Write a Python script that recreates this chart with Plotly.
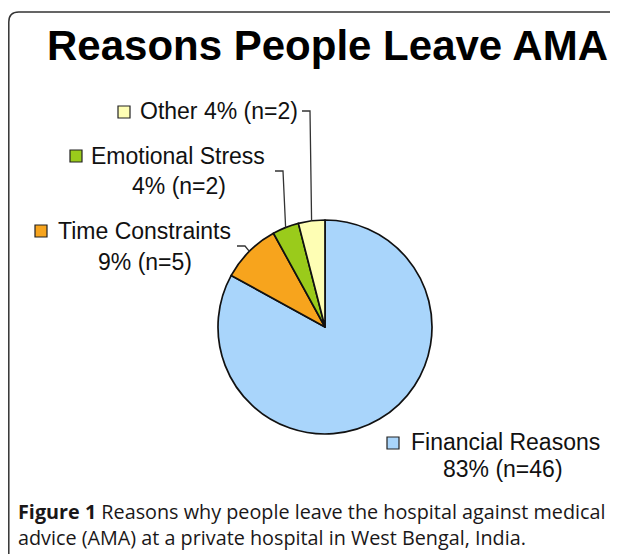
import math
import plotly.graph_objects as go

# ---- data ----
categories = ["Financial Reasons", "Time Constraints", "Emotional Stress", "Other"]
percents = [83, 9, 4, 4]
counts = [46, 5, 2, 2]
colors = ["#A9D5FB", "#F7A41D", "#9ACB1B", "#FEFEB4"]

OFF = 8  # page body margin compensation
W, H = 618 - 2 * OFF, 554 - OFF


def px(x):
    return (x - OFF) / W


def py(y):
    return 1 - (y - OFF) / H


# pie geometry (pixels in the screenshot)
CX, CY, R = 325, 327, 107

fig = go.Figure()
fig.add_trace(go.Pie(
    labels=categories,
    values=percents,
    sort=False,
    direction="clockwise",
    rotation=0,
    textinfo="none",
    hoverinfo="label+percent",
    marker=dict(colors=colors, line=dict(color="#111111", width=1.7)),
    domain=dict(x=[px(CX - R), px(CX + R)], y=[py(CY + R), py(CY - R)]),
    showlegend=False,
))

shapes = []
annotations = []

# frame with rounded top-left corner
rc = 10
fx, fy = 8.8, 12
path = (f"M {px(fx)},{py(600)} L {px(fx)},{py(fy + rc)} "
        f"Q {px(fx)},{py(fy)} {px(fx + rc)},{py(fy)} L {px(700)},{py(fy)}")
shapes.append(dict(type="path", xref="paper", yref="paper", path=path,
                   line=dict(color="#333333", width=1.5)))

# title
annotations.append(dict(text="<b>Reasons People Leave AMA</b>", x=px(327), y=py(46),
                        xref="paper", yref="paper", showarrow=False,
                        xanchor="center", yanchor="middle",
                        font=dict(family="Liberation Sans, Arial", size=42, color="#000000")))

# label layout (pixel positions)
layout_pos = {
    "Financial Reasons": dict(sq=(387, 443), line1=(409, 442), line2=(503, 469), lead=None),
    "Time Constraints": dict(sq=(35, 231), line1=(56, 231), line2=(145, 262), lead=(237, 246)),
    "Emotional Stress": dict(sq=(70, 156), line1=(89, 156), line2=(179, 186), lead=(275, 171)),
    "Other": dict(sq=(118, 112), line1=(138, 111), line2=None, lead=(302, 111)),
}

total = sum(percents)
cum = 0
lab_font = dict(family="Liberation Sans, Arial", size=23, color="#111111")
S = 12
for cat, p, n, col in zip(categories, percents, counts, colors):
    mid = (cum + p / 2) / total * 2 * math.pi
    cum += p
    pos = layout_pos[cat]
    sx, sy = pos["sq"]
    shapes.append(dict(type="rect", xref="paper", yref="paper",
                       x0=px(sx), x1=px(sx + S), y0=py(sy + S / 2), y1=py(sy - S / 2),
                       fillcolor=col, line=dict(color="#222222", width=1.2)))
    pct = f"{p}% (n={n})"
    if pos["line2"] is None:
        annotations.append(dict(text=f"{cat} {pct}", x=px(pos["line1"][0]), y=py(pos["line1"][1]),
                                xref="paper", yref="paper", showarrow=False,
                                xanchor="left", yanchor="middle", font=lab_font))
    else:
        annotations.append(dict(text=cat, x=px(pos["line1"][0]), y=py(pos["line1"][1]),
                                xref="paper", yref="paper", showarrow=False,
                                xanchor="left", yanchor="middle", font=lab_font))
        annotations.append(dict(text=pct, x=px(pos["line2"][0]), y=py(pos["line2"][1]),
                                xref="paper", yref="paper", showarrow=False,
                                xanchor="center", yanchor="middle", font=lab_font))
    if pos["lead"] is not None:
        lx, ly = pos["lead"]
        ex = CX + R * math.sin(mid)
        ey = CY - R * math.cos(mid)
        shapes.append(dict(type="path", xref="paper", yref="paper",
                           path=f"M {px(lx)},{py(ly)} L {px(lx + 8)},{py(ly)} L {px(ex)},{py(ey)}",
                           line=dict(color="#333333", width=1.3)))

# caption
annotations.append(dict(
    text="<b>Figure 1</b> Reasons why people leave the hospital against medical<br>"
         "advice (AMA) at a private hospital in West Bengal, India.",
    x=px(16), y=py(524), xref="paper", yref="paper", showarrow=False,
    xanchor="left", yanchor="middle", align="left",
    font=dict(family="Open Sans", size=19.8, color="#1A1718")))

fig.update_layout(
    width=W, height=H,
    margin=dict(l=0, r=0, t=0, b=0),
    paper_bgcolor="#FFFFFF", plot_bgcolor="#FFFFFF",
    shapes=shapes, annotations=annotations,
)

fig.write_html("out.html")
